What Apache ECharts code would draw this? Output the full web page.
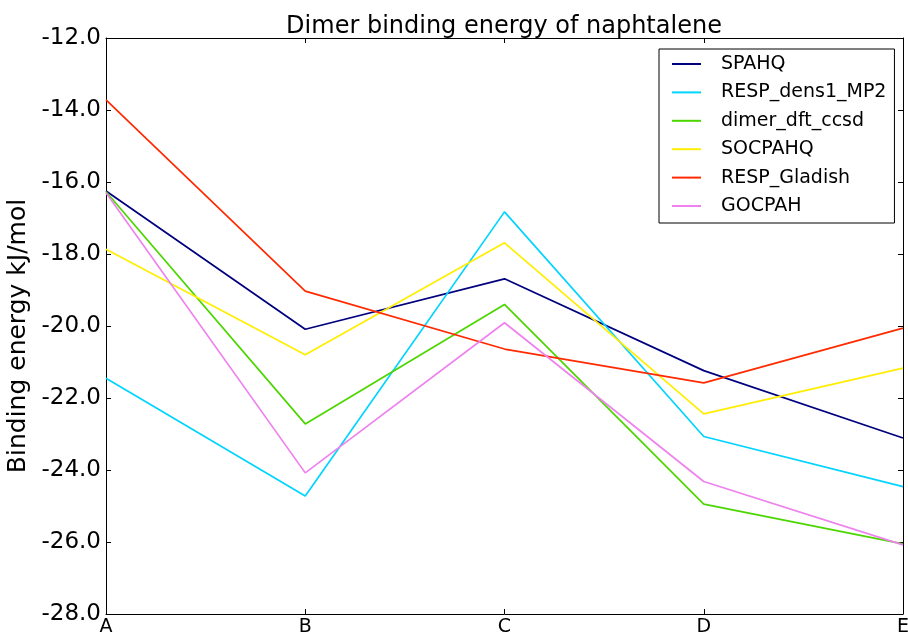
<!DOCTYPE html>
<html>
<head>
<meta charset="utf-8">
<script src="https://cdn.jsdelivr.net/npm/echarts@6/dist/echarts.min.js"></script>
<style>
  html, body { margin: 0; padding: 0; background: #fff; }
  #chart { width: 908px; height: 635px; }
</style>
</head>
<body>
<div id="chart"></div>
<script>
// Dimer binding energies (kJ/mol) for five naphthalene dimer configurations
const categories = ['A', 'B', 'C', 'D', 'E'];
const seriesNames = ['SPAHQ', 'RESP_dens1_MP2', 'dimer_dft_ccsd', 'SOCPAHQ', 'RESP_Gladish', 'GOCPAH'];
const spahq        = [-16.25, -20.09, -18.69, -21.24, -23.11];
const respDens1MP2 = [-21.45, -24.72, -16.83, -23.07, -24.46];
const dimerDftCcsd = [-16.27, -22.72, -19.40, -24.95, -26.05];
const socpahq      = [-17.87, -20.80, -17.69, -22.44, -21.17];
const respGladish  = [-13.72, -19.03, -20.64, -21.58, -20.06];
const gocpah       = [-16.30, -24.08, -19.91, -24.32, -26.08];
const yTicks = { min: -28, max: -12, step: 2 };

const values = [spahq, respDens1MP2, dimerDftCcsd, socpahq, respGladish, gocpah];
const colors = ['#00007f', '#00d4ff', '#4cd600', '#ffee00', '#ff2a00', '#ee82ee'];

const FONT = 'DejaVu Sans';
const chart = echarts.init(document.getElementById('chart'), null, { renderer: 'canvas' });

const frameAxis = {
  axisLine: { show: true, onZero: false, lineStyle: { color: '#000', width: 1 } },
  axisTick: { show: true, inside: true, length: 5, lineStyle: { color: '#000', width: 1 } },
  splitLine: { show: false }
};

chart.setOption({
  animation: false,
  backgroundColor: '#fff',
  title: {
    text: 'Dimer binding energy of naphtalene',
    left: 499, top: 10, textAlign: 'center',
    textStyle: { fontFamily: FONT, fontSize: 24, fontWeight: 'normal', color: '#000' }
  },
  grid: { left: 106, right: 5, top: 38, bottom: 21, containLabel: false, outerBoundsMode: 'none' },
  legend: {
    orient: 'vertical',
    left: 659, top: 49,
    padding: [5, 8, 7, 13],
    itemGap: 8.4,
    itemWidth: 29, itemHeight: 2,
    icon: 'rect',
    borderColor: '#000', borderWidth: 1, borderRadius: 0,
    backgroundColor: '#fff',
    textStyle: { fontFamily: FONT, fontSize: 19, lineHeight: 20, color: '#000', padding: [0, 0, 0, 15] },
    data: seriesNames
  },
  xAxis: [
    Object.assign({
      type: 'category', data: categories, boundaryGap: false,
      axisLabel: { fontFamily: FONT, fontSize: 19, color: '#000', margin: 4 }
    }, frameAxis),
    Object.assign({
      type: 'category', data: categories, boundaryGap: false, position: 'top',
      axisLabel: { show: false }
    }, frameAxis)
  ],
  yAxis: [
    Object.assign({
      type: 'value', min: yTicks.min, max: yTicks.max, interval: yTicks.step,
      name: 'Binding energy kJ/mol', nameLocation: 'middle', nameGap: 68,
      nameTextStyle: { fontFamily: FONT, fontSize: 25, color: '#000', padding: [0, 20, 0, 0] },
      axisLabel: { fontFamily: FONT, fontSize: 23, color: '#000', margin: 5,
        formatter: v => v.toFixed(1) }
    }, frameAxis),
    Object.assign({
      type: 'value', min: yTicks.min, max: yTicks.max, interval: yTicks.step, position: 'right',
      axisLabel: { show: false }
    }, frameAxis)
  ],
  series: seriesNames.map((name, i) => ({
    name, type: 'line', data: values[i],
    xAxisIndex: 0, yAxisIndex: 0,
    showSymbol: false, symbol: 'none',
    lineStyle: { color: colors[i], width: 1.7 },
    itemStyle: { color: colors[i] }
  }))
});
</script>
</body>
</html>
